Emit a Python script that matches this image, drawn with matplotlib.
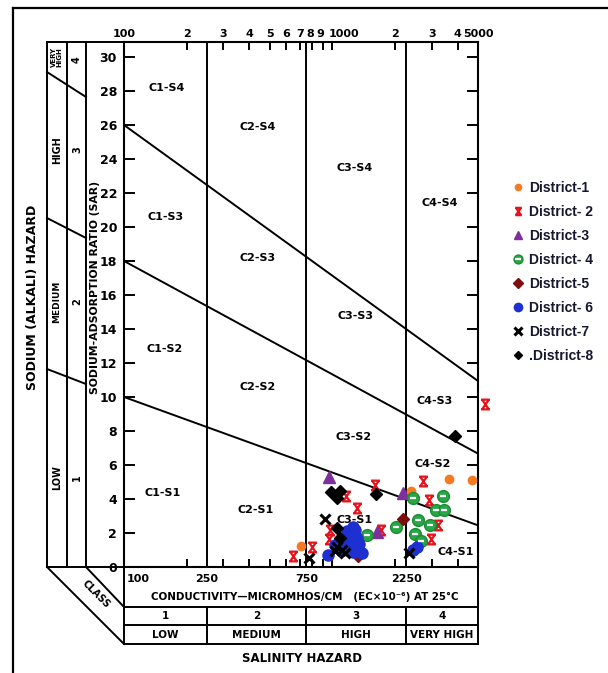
import numpy as np
import matplotlib
matplotlib.use('Agg')
import matplotlib.pyplot as plt
from matplotlib.path import Path
from matplotlib.transforms import blended_transform_factory
from matplotlib.legend_handler import HandlerTuple

# ---------------- data (EC in micromhos/cm, SAR) ----------------
d1_ec = [2390, 3610, 4670, 710]
d1_sar = [4.5, 5.2, 5.1, 1.24]
d2_ec = [1610, 1167, 1318, 2730, 5380, 2900, 3230, 1720, 2990, 977, 960, 800, 650]
d2_sar = [4.85, 4.2, 3.5, 5.06, 9.6, 3.94, 2.5, 2.2, 1.65, 2.15, 1.65, 1.2, 0.65]
d3_ec = [968, 2190, 1630]
d3_sar = [5.3, 4.35, 2.06]
d4_ec = [2450, 3380, 3160, 3420, 2580, 2930, 2010, 1473, 2500, 2650]
d4_sar = [4.06, 4.2, 3.35, 3.35, 2.76, 2.47, 2.35, 1.9, 1.94, 1.53]
d5_ec = [2190, 1333]
d5_sar = [2.8, 0.65]
d6_ec = [1180, 1290, 1194, 1320, 1221, 1335, 1250, 958, 1035, 1092, 1394, 1120, 1260, 2450, 2550]
d6_sar = [2.1, 2.2, 1.75, 1.7, 1.3, 1.35, 0.9, 0.7, 1.3, 1.6, 0.8, 1.0, 2.35, 1.0, 1.15]
d7_ec = [925, 775, 1058, 1118, 1155, 1035, 2320]
d7_sar = [2.8, 0.55, 1.2, 1.0, 0.85, 0.95, 0.82]
d8_ec = [988, 1092, 1057, 1625, 3860, 1058, 1092]
d8_sar = [4.4, 4.5, 4.06, 4.3, 7.7, 2.3, 1.7]

legend_labels = ['District-1', 'District- 2', 'District-3', 'District- 4',
                 'District-5', 'District- 6', 'District-7', '.District-8']

class_edges = [100, 250, 750, 2250, 5000]
class_nums = ['1', '2', '3', '4']
class_names = ['LOW', 'MEDIUM', 'HIGH', 'VERY HIGH']
ec_bottom_labels = ['100', '250', '750', '2250']
top_tick_vals = [200, 300, 400, 500, 600, 700, 800, 900, 1000, 2000, 3000, 4000]
top_tick_text = {100: '100', 200: '2', 300: '3', 400: '4', 500: '5', 600: '6',
                 700: '7', 800: '8', 900: '9', 1000: '1000', 2000: '2',
                 3000: '3', 4000: '4', 5000: '5000'}
s_left = [10.0, 18.0, 26.0]      # SAR boundaries at EC = 100
s_right = [2.45, 6.67, 10.94]    # SAR boundaries at EC = 5000
zone_labels = ['C1-S4', 'C2-S4', 'C3-S4', 'C4-S4',
               'C1-S3', 'C2-S3', 'C3-S3', 'C4-S3',
               'C1-S2', 'C2-S2', 'C3-S2', 'C4-S2',
               'C1-S1', 'C2-S1', 'C3-S1', 'C4-S1']

plt.rcParams['font.family'] = ['DejaVu Sans']
plt.rcParams['font.weight'] = 'bold'

W, H = 608, 673
fig = plt.figure(figsize=(W / 100, H / 100), dpi=100)
ov = fig.add_axes([0, 0, 1, 1])
ov.set_xlim(0, W)
ov.set_ylim(H, 0)
ov.axis('off')

L, R, T, B = 124, 478, 42, 567
ax = fig.add_axes([L / W, 1 - B / H, (R - L) / W, (B - T) / H])
ax.set_facecolor('none')
ax.set_xscale('log')
ax.set_xlim(100, 5000)
ax.set_ylim(0, (B - T) / 17.0)
for s in ax.spines.values():
    s.set_linewidth(1.5)

ax.set_xticks(top_tick_vals)
ax.set_xticks([], minor=True)
ax.set_xticklabels([])
ax.tick_params(axis='x', which='major', direction='in', top=True, bottom=True,
               length=6, width=1.4, labelbottom=False)
ax.set_yticks(range(0, 31, 2))
ax.set_yticklabels([str(v) for v in range(0, 31, 2)], fontsize=9, fontweight='bold')
ax.tick_params(axis='y', which='major', direction='in', left=True, right=True,
               length=8, width=1.4, pad=5)
ax.tick_params(axis='y', which='minor', left=False, right=False)

# class boundary verticals
for e in class_edges[1:-1]:
    ax.axvline(e, color='k', lw=1.4)
# sodium hazard boundaries
for a, b in zip(s_left, s_right):
    ax.plot([100, 5000], [a, b], color='k', lw=1.4)

bt = blended_transform_factory(ax.transData, ov.transData)

# top tick labels
for v, t in top_tick_text.items():
    ha = 'center'
    xv = v
    if v == 1000:
        ha, xv = 'left', 960
    if v == 800:
        xv = 785
    if v == 900:
        xv = 875
    ax.text(xv, 34, t, transform=bt, ha=ha, va='center', fontsize=8, fontweight='bold')

# ---------------- scatter data ----------------
xpath = Path([(-0.9, 1), (0.9, 1), (-0.9, -1), (0.9, -1),
              (-0.7, 1), (0.7, -1), (0.7, 1), (-0.7, -1)],
             [Path.MOVETO, Path.LINETO, Path.MOVETO, Path.LINETO,
              Path.MOVETO, Path.LINETO, Path.MOVETO, Path.LINETO])

kw = dict(linestyle='none', clip_on=False, zorder=5)
h1, = ax.plot(d1_ec, d1_sar, marker='o', ms=6, color='#f47a24', mec='#f47a24', **kw)
h2, = ax.plot(d2_ec, d2_sar, marker=xpath, ms=7, color='#e3121b', mfc='none', mew=1.6, **kw)
h3, = ax.plot(d3_ec, d3_sar, marker='^', ms=8, color='#7e2f9c', mec='#7e2f9c', **kw)
h4a, = ax.plot(d4_ec, d4_sar, marker='o', ms=8.5, color='#27a845', mec='#1d8a35', **kw)
h4b, = ax.plot(d4_ec, d4_sar, marker='_', ms=5, color='white', mew=1.6,
               linestyle='none', clip_on=False, zorder=6)
h5, = ax.plot(d5_ec, d5_sar, marker='D', ms=6.5, color='#7a1010', mec='#7a1010', **kw)
h6, = ax.plot(d6_ec, d6_sar, marker='o', ms=8, color='#1f30d2', mec='#1f30d2', **kw)
h7, = ax.plot(d7_ec, d7_sar, marker='x', ms=7, color='black', mew=2.2, **kw)
h8, = ax.plot(d8_ec, d8_sar, marker='D', ms=6, color='black', mec='black', **kw)

# zone labels (pixel positions)
zone_pos = [(167, 88), (258, 127), (355, 168), (440, 203),
            (166, 217), (258, 258), (355, 316), (435, 401),
            (165, 349), (258, 387), (354, 437), (433, 464),
            (163, 493), (256, 510), (355, 520), (456, 552)]
for t, (px, py) in zip(zone_labels, zone_pos):
    ov.text(px, py, t, ha='center', va='center', fontsize=8, fontweight='bold', zorder=4)

# ---------------- outer frame ----------------
ov.plot([13, W], [8, 8], color='k', lw=1.6)
ov.plot([13, 13], [8, H], color='k', lw=1.6)

# ---------------- left sodium hazard panel ----------------
lk = dict(color='k', lw=1.4)
for x in (47, 67, 86):
    ov.plot([x, x], [T, B], **lk)
ov.plot([47, L], [T, T], **lk)
ov.plot([47, L], [B, B], **lk)
ov.plot([47, 86], [72, 97], **lk)
ov.plot([47, 86], [218, 238], **lk)
ov.plot([47, 86], [369, 384], **lk)
ov.plot([47, L], [B, 644], **lk)
ov.plot([86, L], [B, 607], **lk)

ov.text(57, 57, 'VERY\nHIGH', rotation=90, ha='center', va='center', fontsize=5,
        linespacing=0.9, fontweight='bold')
ov.text(77, 60, '4', rotation=90, ha='center', va='center', fontsize=7, fontweight='bold')
ov.text(57, 150, 'HIGH', rotation=90, ha='center', va='center', fontsize=7, fontweight='bold')
ov.text(77, 150, '3', rotation=90, ha='center', va='center', fontsize=7, fontweight='bold')
ov.text(57, 302, 'MEDIUM', rotation=90, ha='center', va='center', fontsize=6.5, fontweight='bold')
ov.text(77, 302, '2', rotation=90, ha='center', va='center', fontsize=7, fontweight='bold')
ov.text(57, 478, 'LOW', rotation=90, ha='center', va='center', fontsize=7, fontweight='bold')
ov.text(77, 478, '1', rotation=90, ha='center', va='center', fontsize=7, fontweight='bold')
ov.text(33, 297, 'SODIUM (ALKALI) HAZARD', rotation=90, ha='center', va='center',
        fontsize=9, fontweight='bold')
ov.text(95, 287, 'SODIUM-ADSORPTION RATIO (SAR)', rotation=90, ha='center', va='center',
        fontsize=7.8, fontweight='bold')
ov.text(96, 594, 'CLASS', rotation=-45, ha='center', va='center', fontsize=7, fontweight='bold')

# ---------------- bottom salinity table ----------------
ov.plot([L, L], [B, 644], **lk)
ov.plot([R, R], [B, 644], **lk)
for yy in (607, 625, 644):
    ov.plot([L, R], [yy, yy], **lk)
for e in class_edges[1:-1]:
    ov.plot([e, e], [607, 644], transform=bt, **lk)

label_x = [103, 250, 755, 2270]
for xv, t in zip(label_x, ec_bottom_labels):
    ha = 'left' if t == '100' else 'center'
    ov.text(xv, 579, t, transform=bt, ha=ha, va='center', fontsize=8, fontweight='bold')
ov.text(305, 597, 'CONDUCTIVITY\u2014MICROMHOS/CM   (EC\u00d710\u207b\u2076) AT 25\u00b0C',
        ha='center', va='center', fontsize=7.4, fontweight='bold')
for i in range(4):
    xc = np.sqrt(class_edges[i] * class_edges[i + 1])
    ov.text(xc, 616, class_nums[i], transform=bt, ha='center', va='center',
            fontsize=7.5, fontweight='bold')
    ov.text(xc, 635, class_names[i], transform=bt, ha='center', va='center',
            fontsize=7.5, fontweight='bold')
ov.text(302, 658, 'SALINITY HAZARD', ha='center', va='center', fontsize=8.5, fontweight='bold')

# ---------------- legend ----------------
handles = [h1, h2, h3, (h4a, h4b), h5, h6, h7, h8]
leg = fig.legend(handles, legend_labels, loc='upper left',
                 bbox_to_anchor=(512 / W, 1 - 181 / H), frameon=False,
                 handlelength=0.9, handletextpad=0.35, labelspacing=0.72,
                 borderpad=0, borderaxespad=0, markerscale=0.75,
                 handler_map={tuple: HandlerTuple(ndivide=1, pad=0)},
                 prop={'family': 'Liberation Sans', 'weight': 'bold', 'size': 10})
for t in leg.get_texts():
    t.set_color('#161630')

fig.savefig('out.png', dpi=100)
